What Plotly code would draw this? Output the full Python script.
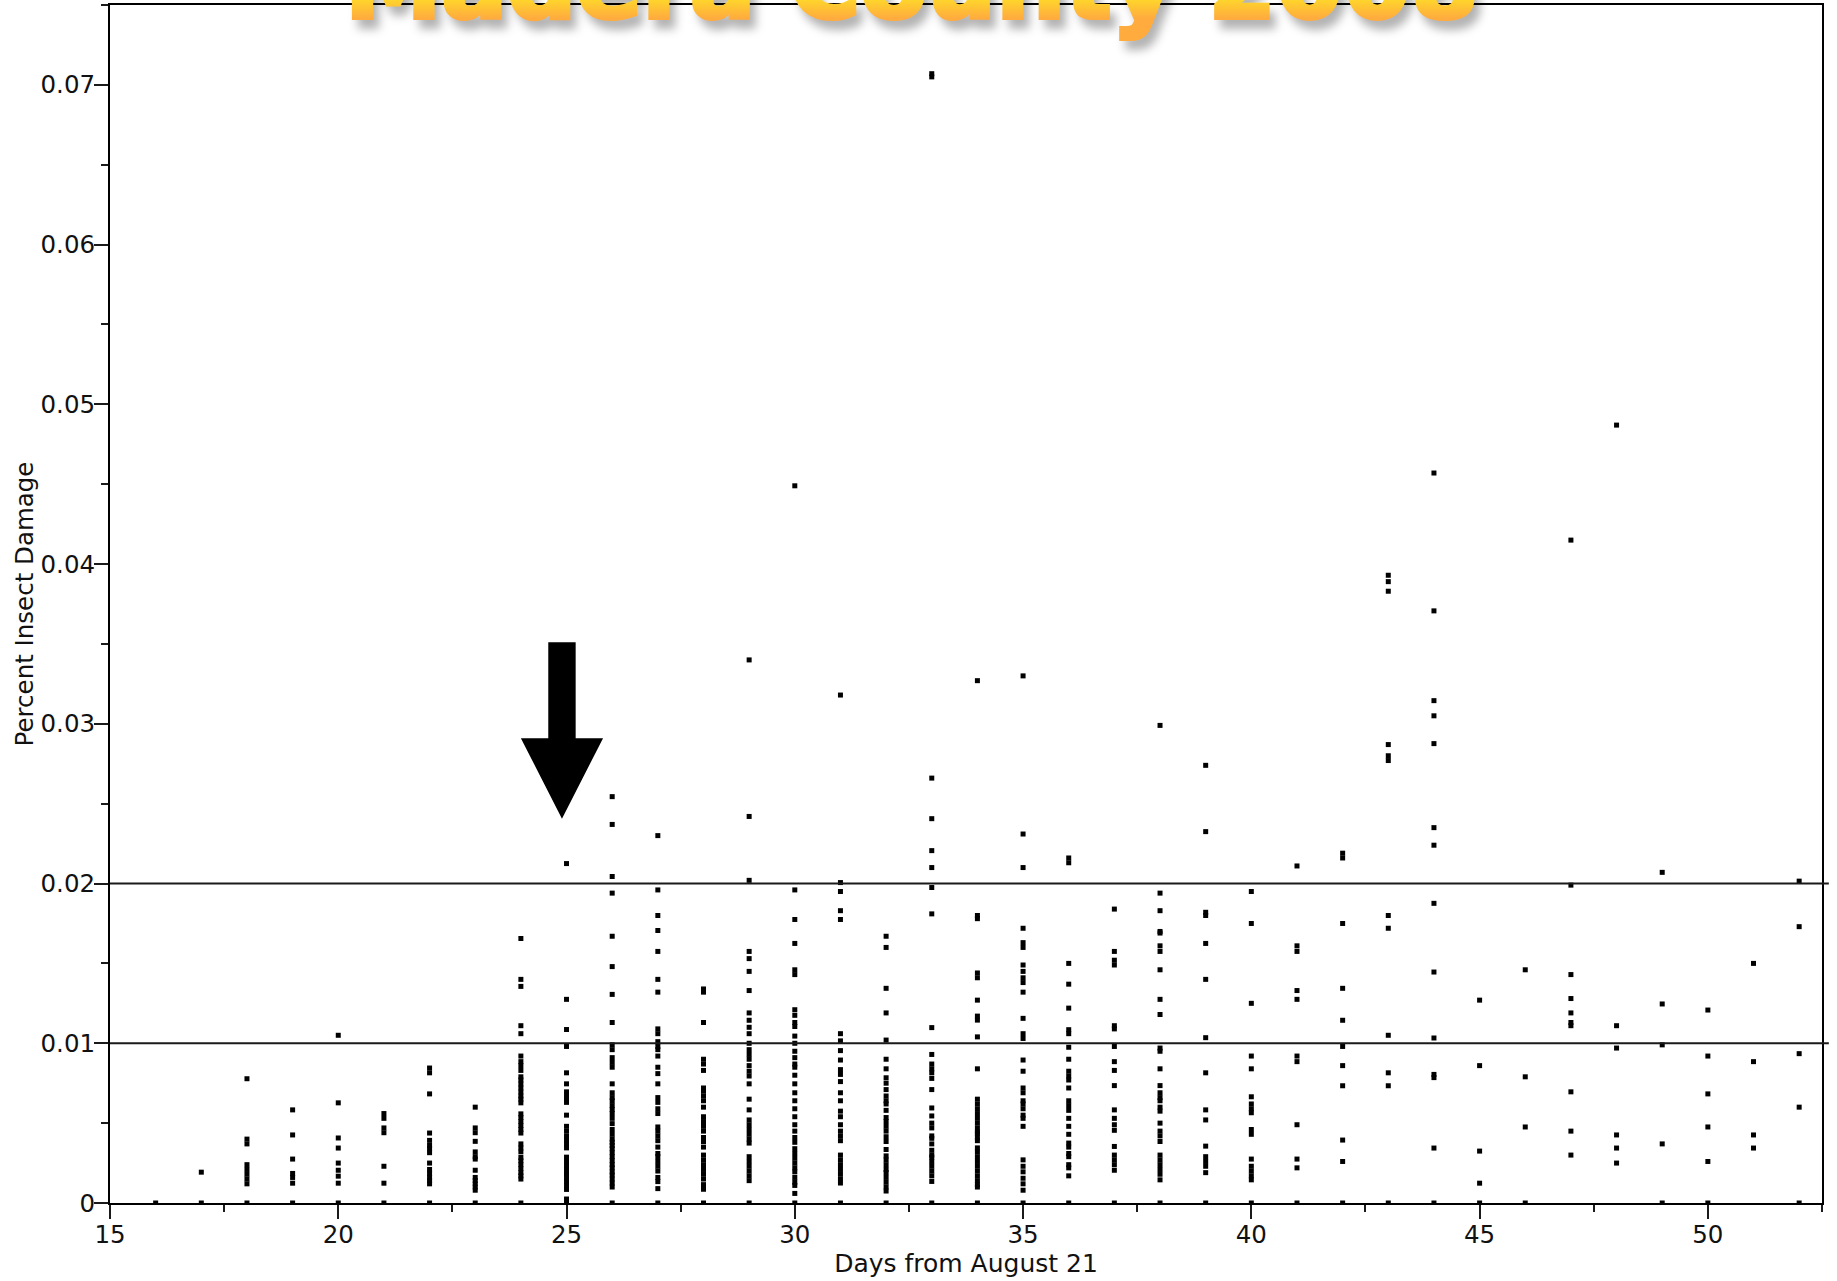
import plotly.graph_objects as go

# Percent insect damage per day, in thousandths
d16 = [0]
d17 = [1.93, 0]
d18 = [7.78, 4.0, 3.7, 2.4, 2.1, 1.8, 1.5, 1.2, 0]
d19 = [5.83, 4.26, 2.75, 1.85, 1.6, 1.24, 0]
d20 = [10.5, 6.27, 4.07, 3.44, 2.5, 2.05, 1.68, 1.24, 0]
d21 = [5.6, 5.3, 4.7, 4.4, 2.3, 1.24, 0]
d22 = [8.45, 8.15, 6.83, 4.38, 3.92, 3.6, 3.4, 3.15, 2.5, 2.1, 1.85, 1.6, 1.4, 1.2, 0]
d23 = [6.0, 4.7, 4.4, 3.86, 3.2, 2.9, 2.75, 2.05, 1.6, 1.4, 1.2, 1.0, 0.8, 0]
d24 = [16.56, 14.0, 13.56, 11.1, 10.6, 9.2, 8.85, 8.6, 8.3, 7.9, 7.7, 7.45, 7.2, 6.95, 6.7, 6.5, 6.27,
       5.58, 5.35, 5.1, 4.85, 4.6, 4.38, 3.7, 3.45, 3.2, 2.85, 2.64, 2.4, 2.15, 1.9, 1.7, 1.5, 0]
d25 = [21.25, 12.75, 10.86, 9.8, 8.15, 7.46, 6.96, 6.7, 6.5, 6.3, 5.5, 4.8, 4.5, 4.2, 3.95, 3.7, 3.45,
       2.87, 2.6, 2.35, 2.1, 1.9, 1.82, 1.6, 1.35, 1.1, 0.85, 0.25, 0]
d26 = [25.44, 23.7, 20.44, 19.4, 16.7, 14.8, 13.06, 11.3, 9.9, 9.6, 9.1, 8.8, 8.5, 7.46, 6.9, 6.6, 6.4,
       6.1, 5.85, 5.6, 5.3, 4.97, 4.6, 4.3, 4.0, 3.8, 3.6, 3.4, 3.15, 2.9, 2.65, 2.4, 2.2, 1.95, 1.75,
       1.5, 1.25, 1.0, 0]
d27 = [23.0, 19.6, 18.0, 17.06, 15.75, 14.0, 13.2, 10.9, 10.6, 10.1, 9.8, 9.6, 9.2, 8.5, 8.1, 7.46, 6.6,
       6.3, 5.9, 5.6, 4.76, 4.5, 4.2, 3.9, 3.5, 3.1, 2.9, 2.6, 2.3, 2.0, 1.6, 1.34, 0.9, 0]
d28 = [13.4, 13.2, 11.3, 9.0, 8.7, 8.3, 7.2, 7.0, 6.7, 6.4, 6.0, 5.4, 5.1, 4.8, 4.5, 4.1, 3.85, 3.5, 3.0,
       2.7, 2.4, 2.1, 1.8, 1.5, 1.15, 0.86, 0]
d29 = [34.0, 24.2, 20.2, 15.75, 15.3, 14.5, 13.3, 11.9, 11.44, 11.0, 10.6, 10.0, 9.6, 9.3, 9.0, 8.6, 8.25,
       7.95, 7.46, 6.5, 5.83, 5.2, 4.9, 4.6, 4.3, 4.0, 3.75, 2.9, 2.6, 2.3, 2.0, 1.7, 1.4, 0]
d30 = [44.9, 19.6, 17.75, 16.25, 14.6, 14.3, 12.1, 11.75, 11.3, 11.05, 10.45, 10.0, 9.5, 9.1, 8.7, 8.5, 8.0,
       7.46, 6.9, 6.4, 5.9, 5.4, 4.9, 4.5, 4.1, 3.8, 3.4, 3.1, 2.8, 2.5, 2.2, 1.95, 1.6, 1.3, 1.1, 0.6, 0]
d31 = [31.8, 20.06, 19.5, 18.3, 17.75, 10.6, 10.15, 9.54, 8.95, 8.35, 8.05, 7.6, 6.9, 6.4, 5.75, 5.4, 4.9,
       4.5, 4.2, 3.9, 3.0, 2.7, 2.4, 2.1, 1.8, 1.5, 1.25, 0]
d32 = [16.7, 16.0, 13.44, 11.9, 10.2, 9.0, 8.4, 7.84, 7.5, 7.1, 6.7, 6.4, 6.2, 5.8, 5.35, 5.1, 4.8, 4.5,
       4.15, 3.85, 3.35, 2.95, 2.7, 2.4, 2.1, 1.9, 1.6, 1.3, 1.0, 0.75, 0]
d33 = [70.7, 70.5, 26.6, 24.06, 22.06, 21.0, 19.75, 18.1, 10.98, 9.3, 8.7, 8.4, 8.15, 7.8, 7.1, 5.95, 5.45,
       5.0, 4.7, 4.2, 4.05, 3.7, 3.3, 3.0, 2.87, 2.6, 2.3, 2.0, 1.7, 1.35, 0]
d34 = [32.7, 18.0, 17.8, 14.4, 14.1, 12.7, 11.7, 11.45, 10.4, 8.4, 6.5, 6.2, 5.9, 5.6, 5.3, 5.0, 4.7, 4.45,
       4.35, 4.1, 3.9, 3.45, 3.2, 2.9, 2.6, 2.3, 2.0, 1.7, 1.4, 1.15, 1.0, 0]
d35 = [33.0, 23.1, 21.0, 17.2, 16.3, 16.0, 14.9, 14.5, 14.1, 13.8, 13.2, 11.56, 10.6, 10.3, 8.95, 8.25, 7.2,
       6.9, 6.4, 6.2, 5.9, 5.5, 5.3, 4.8, 2.7, 2.3, 1.95, 1.55, 1.2, 0.8, 0]
d36 = [21.6, 21.3, 15.0, 13.7, 12.2, 10.85, 10.6, 9.75, 9.0, 8.25, 7.95, 7.7, 7.2, 6.4, 6.1, 5.8, 5.3, 4.8,
       4.3, 3.75, 3.5, 3.1, 2.9, 2.4, 2.2, 1.7, 0]
d37 = [18.4, 15.75, 15.2, 14.9, 11.1, 10.9, 9.8, 8.85, 8.3, 7.35, 5.83, 5.3, 4.9, 4.55, 3.54, 3.0, 2.7, 2.4,
       2.05, 0]
d38 = [29.9, 19.4, 18.3, 17.0, 16.9, 16.1, 15.75, 14.6, 12.75, 11.8, 9.7, 9.5, 8.4, 7.35, 6.9, 6.6, 6.4, 6.0,
       5.75, 5.0, 4.5, 4.2, 3.85, 3.0, 2.7, 2.4, 2.1, 1.8, 1.45, 0]
d39 = [27.4, 23.25, 18.2, 18.0, 16.25, 14.0, 10.35, 8.15, 5.83, 5.2, 3.56, 2.9, 2.6, 2.3, 1.9, 0]
d40 = [19.5, 17.5, 12.5, 9.2, 8.4, 6.65, 6.2, 5.9, 5.65, 4.6, 4.3, 2.75, 2.3, 2.0, 1.7, 1.45, 0]
d41 = [21.1, 16.1, 15.75, 13.3, 12.75, 9.2, 8.85, 4.9, 2.75, 2.2, 0]
d42 = [21.9, 21.6, 17.5, 13.44, 11.44, 9.8, 8.6, 7.34, 3.94, 2.6, 0]
d43 = [39.3, 38.9, 38.3, 28.7, 28.0, 27.7, 18.0, 17.2, 10.5, 8.15, 7.34, 0]
d44 = [45.7, 37.07, 31.45, 30.5, 28.76, 23.5, 22.4, 18.76, 14.46, 10.33, 8.05, 7.85, 3.44, 0]
d45 = [12.7, 8.6, 3.25, 1.24, 0]
d46 = [14.6, 7.9, 4.76, 0]
d47 = [41.5, 19.9, 14.3, 12.8, 11.9, 11.3, 11.1, 6.96, 4.5, 3.0]
d48 = [48.7, 11.1, 9.7, 4.26, 3.44, 2.5]
d49 = [20.7, 12.46, 9.9, 3.7, 0]
d50 = [12.08, 9.2, 6.83, 4.76, 2.6, 0]
d51 = [15.0, 8.85, 4.26, 3.44]
d52 = [20.15, 17.3, 9.35, 6.0, 0]

day_columns = [d16, d17, d18, d19, d20, d21, d22, d23, d24, d25, d26, d27, d28, d29, d30, d31, d32, d33,
               d34, d35, d36, d37, d38, d39, d40, d41, d42, d43, d44, d45, d46, d47, d48, d49, d50, d51, d52]
first_day = 16

thresholds = [0.01, 0.02]
x_title = "Days from August 21"
y_title = "Percent Insect Damage"
chart_title = "Madera County 2008"

xs, ys = [], []
for i, col in enumerate(day_columns):
    for v in col:
        xs.append(first_day + i)
        ys.append(v / 1000)

FONT = "DejaVu Sans"
INK = "#000000"

fig = go.Figure(go.Scatter(
    x=xs, y=ys, mode="markers",
    marker=dict(symbol="square", size=5, color=INK, line=dict(width=0)),
    hoverinfo="skip", showlegend=False,
))

shapes = [dict(type="line", xref="paper", yref="y", x0=0, x1=1.004, y0=t, y1=t,
               line=dict(color="#1a1a1a", width=2), layer="above") for t in thresholds]
# down arrow
shapes.append(dict(
    type="path", xref="x", yref="y", fillcolor=INK, line=dict(width=0), layer="above",
    path="M24.6,0.0351 L25.2,0.0351 L25.2,0.0291 L25.8,0.0291 L24.9,0.02406 L24.0,0.0291 L24.6,0.0291 Z",
))

fig.update_layout(
    width=1837, height=1281,
    margin=dict(l=110, r=15, t=5, b=78, autoexpand=False),
    paper_bgcolor="white", plot_bgcolor="white",
    font=dict(family=FONT, size=24, color="#111111"),
    shapes=shapes,
    annotations=[dict(
        text=chart_title, xref="paper", yref="paper", x=0.4687, y=1.0,
        yshift=-38, xanchor="center", yanchor="bottom", showarrow=False,
        font=dict(family=FONT, size=97, weight=700, color="#FFB53A"),
    )],
)
axis_common = dict(
    showgrid=False, zeroline=False, showline=True, linecolor=INK, linewidth=2,
    mirror=True, ticks="outside", ticklen=14, tickwidth=2, tickcolor="#1a1a1a",
    tickfont=dict(family=FONT, size=24.5, color="#111111"),
)
fig.update_xaxes(
    range=[15, 52.5], tick0=15, dtick=5, ticklabelstandoff=-5,
    minor=dict(dtick=2.5, tick0=15, ticks="outside", ticklen=7, tickwidth=2, tickcolor="#1a1a1a", showgrid=False),
    title=dict(text=x_title, font=dict(family=FONT, size=25), standoff=0),
    **axis_common,
)
fig.update_yaxes(
    range=[0, 0.075], tick0=0, dtick=0.01, ticklabelstandoff=-6,
    minor=dict(dtick=0.005, tick0=0, ticks="outside", ticklen=7, tickwidth=2, tickcolor="#1a1a1a", showgrid=False),
    title=dict(text=y_title, font=dict(family=FONT, size=24.5), standoff=0),
    **axis_common,
)

# Page margin off, and a yellow-to-orange gradient with a soft drop shadow on the title text
post = """
document.body.style.margin = '0';
var svg = document.querySelector('.main-svg');
var NS = 'http://www.w3.org/2000/svg';
var defs = document.createElementNS(NS,'defs');
var g = document.createElementNS(NS,'linearGradient');
g.setAttribute('id','titleGrad');
g.setAttribute('x1','0'); g.setAttribute('x2','0'); g.setAttribute('y1','0'); g.setAttribute('y2','1');
[['0.6','#FFDE28'],['0.8','#FFAB3E']].forEach(function(s){
  var st = document.createElementNS(NS,'stop');
  st.setAttribute('offset',s[0]); st.setAttribute('stop-color',s[1]); g.appendChild(st);
});
defs.appendChild(g); svg.insertBefore(defs, svg.firstChild);
document.querySelectorAll('.annotation-text').forEach(function(t){
  t.style.fill = 'url(#titleGrad)';
  t.style.stroke = 'url(#titleGrad)';
  t.style.strokeWidth = '4px';
  t.style.filter = 'drop-shadow(6px 9px 5px rgba(0,0,0,0.3))';
});
"""
fig.write_html("out.html", post_script=post, config={"displayModeBar": False})
